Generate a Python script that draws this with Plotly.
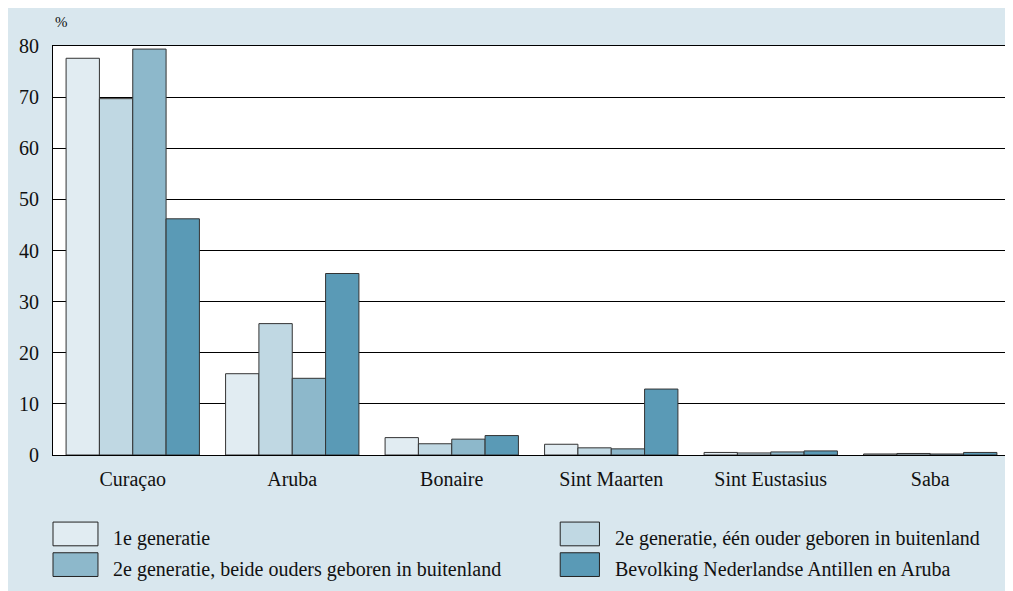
import plotly.graph_objects as go

eilanden = ["Curaçao", "Aruba", "Bonaire", "Sint Maarten", "Sint Eustasius", "Saba"]

gen1 = [77.6, 15.9, 3.4, 2.1, 0.5, 0.2]
gen2_een_ouder = [69.7, 25.7, 2.2, 1.4, 0.4, 0.3]
gen2_beide_ouders = [79.4, 15.0, 3.1, 1.2, 0.6, 0.2]
bevolking = [46.2, 35.5, 3.8, 12.9, 0.8, 0.5]

reeksen = [
    "1e generatie",
    "2e generatie, één ouder geboren in buitenland",
    "2e generatie, beide ouders geboren in buitenland",
    "Bevolking Nederlandse Antillen en Aruba",
]
kleuren = ["#e1ecf2", "#c0d8e3", "#8db8cb", "#5a9ab6"]

y_ticks = [0, 10, 20, 30, 40, 50, 60, 70, 80]

FONT = "Liberation Serif"
BG = "#d9e7ee"

fig = go.Figure()
for naam, waarden, kleur in zip(reeksen, [gen1, gen2_een_ouder, gen2_beide_ouders, bevolking], kleuren):
    fig.add_trace(go.Bar(
        x=eilanden, y=waarden, name=naam,
        marker=dict(color=kleur, line=dict(color="#333333", width=1)),
        showlegend=False,
    ))

# achtergrondvlak + wit plotvlak
fig.add_shape(type="rect", xref="paper", yref="paper",
              x0=-0.06, x1=1.003, y0=-0.325, y1=1.12,
              fillcolor=BG, line_width=0, layer="below")
fig.add_shape(type="rect", xref="paper", yref="paper",
              x0=0, x1=1, y0=0, y1=1,
              fillcolor="white", line_width=0, layer="below")

# legenda handmatig (twee kolommen)
for i, (naam, kleur) in enumerate(zip(reeksen, kleuren)):
    kolom = i % 2
    rij = i // 2
    yc = -0.193 - rij * 0.075
    lx = 0.0 if kolom == 0 else 0.530
    breedte = 0.047 if kolom == 0 else 0.041
    fig.add_shape(type="rect", xref="paper", yref="paper",
                  x0=lx, x1=lx + breedte, y0=yc - 0.029, y1=yc + 0.029,
                  fillcolor=kleur, line=dict(color="#222222", width=1))
    fig.add_annotation(x=lx + breedte + 0.014, y=yc - 0.011, xref="paper", yref="paper",
                       text=naam, showarrow=False, xanchor="left", yanchor="middle",
                       font=dict(family=FONT, size=20, color="#111111"))

fig.add_annotation(x=0.0, y=1.059, xref="paper", yref="paper", text="%",
                   showarrow=False, xanchor="left", yanchor="middle",
                   font=dict(family=FONT, size=15, color="#111111"))

fig.update_layout(
    width=1005, height=583,
    margin=dict(l=45, r=3, t=38, b=136),
    paper_bgcolor=BG,
    plot_bgcolor="white",
    barmode="group",
    bargap=0.164,
    bargroupgap=0,
    font=dict(family=FONT, size=20, color="#111111"),
    xaxis=dict(showline=True, linecolor="black", linewidth=1, mirror=True,
               ticks="", showgrid=False, ticklabelstandoff=6),
    yaxis=dict(range=[0, 80], tickvals=y_ticks, showline=True, linecolor="black",
               linewidth=1, mirror=True, showgrid=True, gridcolor="black",
               gridwidth=1, ticks="", zeroline=False, ticklabelstandoff=9,
               tickfont=dict(size=20)),
)

fig.write_html("out.html")
